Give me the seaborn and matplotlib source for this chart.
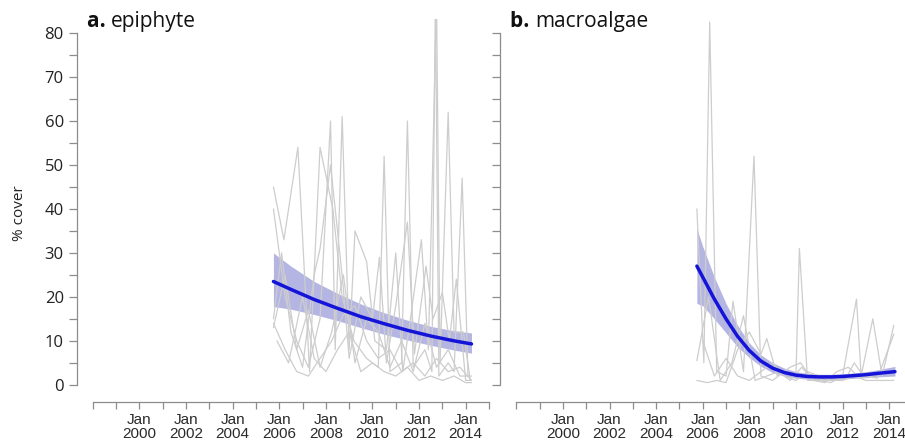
import numpy as np
import pandas as pd
import matplotlib
matplotlib.use("Agg")
import matplotlib.pyplot as plt
from matplotlib import font_manager
import seaborn as sns

# --- data (decimal years, % cover) ---
epi_site1 = [(2005.75, 45), (2006.2, 33), (2006.8, 54), (2007.3, 3), (2007.75, 54), (2008.3, 40),
             (2008.7, 20), (2009.2, 10), (2009.75, 6), (2010.25, 4), (2010.5, 52), (2010.75, 3),
             (2011.25, 5), (2011.5, 60), (2011.75, 4), (2012.25, 8), (2012.55, 3), (2012.7, 88),
             (2012.85, 2), (2013.25, 5), (2013.5, 3), (2013.85, 47), (2014.1, 2)]
epi_site2 = [(2005.75, 40), (2006.25, 20), (2006.75, 10), (2007.25, 4), (2007.75, 15), (2008.2, 60),
             (2008.4, 8), (2008.7, 61), (2009.0, 8), (2009.25, 35), (2009.75, 28), (2010.1, 10),
             (2010.6, 8), (2011.0, 30), (2011.3, 3), (2011.6, 14), (2012.1, 33), (2012.4, 8),
             (2012.75, 88), (2012.9, 5), (2013.25, 62), (2013.5, 12), (2013.9, 12), (2014.2, 1)]
epi_site3 = [(2005.75, 15), (2006.1, 30), (2006.5, 12), (2007.0, 4), (2007.5, 25), (2007.75, 31),
             (2008.2, 50), (2008.5, 35), (2008.75, 22), (2009.0, 6), (2009.5, 20), (2010.0, 15),
             (2010.3, 29), (2010.6, 5), (2011.0, 18), (2011.5, 37), (2011.8, 7), (2012.3, 27),
             (2012.6, 15), (2013.0, 21), (2013.3, 10), (2013.6, 24), (2014.0, 1), (2014.25, 1)]
epi_site4 = [(2005.75, 13), (2006.25, 25), (2006.75, 8), (2007.25, 17), (2007.75, 4), (2008.25, 12),
             (2008.75, 25), (2009.25, 5), (2009.75, 15), (2010.25, 12), (2010.75, 4), (2011.25, 10),
             (2011.75, 3), (2012.25, 14), (2012.75, 4), (2013.25, 8), (2013.75, 2), (2014.25, 2)]
epi_site5 = [(2005.75, 14), (2006.25, 8), (2006.75, 3), (2007.25, 2), (2007.75, 6), (2008.25, 10),
             (2008.75, 16), (2009.25, 18), (2009.75, 10), (2010.25, 6), (2010.75, 8), (2011.25, 3),
             (2011.75, 5), (2012.25, 2), (2012.75, 6), (2013.25, 3), (2013.75, 4), (2014.25, 1)]
epi_site6 = [(2005.9, 10), (2006.4, 5), (2007.0, 20), (2007.5, 6), (2008.0, 3), (2008.5, 8),
             (2009.0, 12), (2009.5, 3), (2010.0, 5), (2010.5, 3), (2011.0, 2), (2011.5, 4),
             (2012.0, 1), (2012.5, 2), (2013.0, 1), (2013.5, 2), (2014.0, 0.5), (2014.25, 0.5)]

mac_site1 = [(2005.75, 40), (2006.05, 5), (2006.3, 82.5), (2006.6, 3), (2007.0, 2), (2007.3, 19),
             (2007.75, 3), (2008.2, 52), (2008.5, 2), (2009.0, 1), (2009.5, 3), (2010.0, 2),
             (2010.15, 31), (2010.5, 1), (2011.0, 1), (2011.5, 0.5), (2012.0, 2), (2012.6, 19.5),
             (2012.8, 2), (2013.3, 15), (2013.7, 2), (2014.2, 13.5)]
mac_site2 = [(2005.75, 1), (2006.2, 0.5), (2006.6, 1), (2007.0, 0.5), (2007.5, 8), (2008.0, 12),
             (2008.5, 7), (2008.75, 10.5), (2009.2, 2), (2009.75, 4), (2010.2, 5), (2010.6, 2),
             (2011.2, 1), (2011.7, 1), (2012.2, 2), (2012.5, 5), (2012.9, 2), (2013.5, 1.5),
             (2014.2, 11.5)]
mac_site3 = [(2005.75, 5.5), (2006.25, 20), (2006.75, 1), (2007.25, 5), (2007.75, 15.7), (2008.25, 1),
             (2008.75, 2), (2009.25, 3), (2009.75, 1), (2010.25, 4), (2010.75, 1), (2011.25, 0.5),
             (2011.75, 3), (2012.25, 4), (2012.75, 1.5), (2013.25, 2), (2013.75, 3), (2014.2, 3)]
mac_site4 = [(2006.0, 10), (2006.5, 2), (2007.0, 6), (2007.5, 2), (2008.0, 1), (2008.5, 3),
             (2009.0, 5), (2009.5, 2), (2010.0, 1), (2010.5, 3), (2011.0, 2), (2011.5, 1),
             (2012.0, 1), (2012.5, 2), (2013.0, 1), (2013.5, 1), (2014.2, 1)]

# fitted trend and its band
epi_fit_x = [2005.75, 2006.5, 2007.5, 2008.5, 2009.5, 2010.5, 2011.5, 2012.5, 2013.5, 2014.25]
epi_fit_y = [23.5, 21.7, 19.4, 17.4, 15.5, 13.9, 12.4, 11.1, 10.0, 9.3]
epi_fit_hi = [30.0, 27.0, 23.5, 20.8, 18.4, 16.4, 14.7, 13.3, 12.3, 11.8]
epi_fit_lo = [17.8, 17.2, 16.0, 14.6, 13.0, 11.5, 10.2, 9.0, 7.9, 7.2]

mac_fit_x = [2005.75, 2006.0, 2006.5, 2007.0, 2007.5, 2008.0, 2008.5, 2009.0, 2009.5, 2010.0,
             2010.5, 2011.0, 2011.5, 2012.0, 2012.5, 2013.0, 2013.5, 2014.25]
mac_fit_y = [27.0, 24.5, 19.5, 15.0, 11.0, 7.8, 5.4, 3.8, 2.8, 2.2, 1.9, 1.8, 1.8, 1.9, 2.1, 2.3, 2.6, 3.0]
mac_fit_hi = [35.5, 31.5, 24.5, 18.5, 13.5, 9.5, 6.8, 5.0, 3.8, 3.0, 2.6, 2.4, 2.4, 2.5, 2.7, 3.0, 3.4, 4.2]
mac_fit_lo = [18.5, 18.0, 15.0, 11.8, 8.6, 6.2, 4.2, 2.8, 2.0, 1.5, 1.3, 1.2, 1.2, 1.3, 1.5, 1.6, 1.8, 2.0]

year_labels = [2000, 2002, 2004, 2006, 2008, 2010, 2012, 2014]
panel_titles = [("a.", "epiphyte"), ("b.", "macroalgae")]


def to_frame(sites):
    rows = []
    for i, site in enumerate(sites):
        for yr, val in site:
            rows.append({"year": yr, "cover": val, "site": i})
    return pd.DataFrame(rows)


names = {f.name for f in font_manager.fontManager.ttflist}
xfont = "Liberation Sans Narrow" if "Liberation Sans Narrow" in names else "Liberation Sans"

sns.set_style("ticks")
plt.rcParams["font.family"] = ["Open Sans", "DejaVu Sans"]

axis_grey = "#8c8c8c"
fig = plt.figure(figsize=(9.05, 4.43), dpi=100)
ax1 = fig.add_axes([0.0851, 0.0926, 0.4727, 0.8646])
ax2 = fig.add_axes([0.5530, 0.0926, 0.4727, 0.8646])

panels = [
    (ax1, [epi_site1, epi_site2, epi_site3, epi_site4, epi_site5, epi_site6],
     epi_fit_x, epi_fit_y, epi_fit_lo, epi_fit_hi),
    (ax2, [mac_site1, mac_site2, mac_site3, mac_site4],
     mac_fit_x, mac_fit_y, mac_fit_lo, mac_fit_hi),
]

for k, (ax, sites, fx, fy, flo, fhi) in enumerate(panels):
    ax.patch.set_alpha(0)
    df = to_frame(sites)
    sns.lineplot(data=df, x="year", y="cover", units="site", estimator=None, sort=False,
                 color="#cdcdcd", lw=0.9, ax=ax, legend=False)
    ax.fill_between(fx, flo, fhi, color="#5050c0", alpha=0.42, lw=0)
    sns.lineplot(x=fx, y=fy, color="#1414d8", lw=2.5, ax=ax)

    ax.set_xlim(1997.32, 2015.68)
    ax.set_ylim(-3.9, 83.2)
    ax.set_xlabel("")
    ax.set_ylabel("")

    for side in ["top", "right"]:
        ax.spines[side].set_visible(False)
    ax.spines["left"].set_bounds(0, 80)
    ax.spines["bottom"].set_bounds(1998, 2015)
    for side in ["left", "bottom"]:
        ax.spines[side].set_color(axis_grey)
        ax.spines[side].set_linewidth(0.9)

    ax.set_yticks(np.arange(0, 81, 10))
    ax.set_yticks(np.arange(5, 80, 10), minor=True)
    ax.set_xticks(year_labels)
    ax.set_xticks([1998, 1999, 2001, 2003, 2005, 2007, 2009, 2011, 2013, 2015], minor=True)
    ax.set_xticklabels([f"Jan\n{y}" for y in year_labels], fontfamily=xfont, fontsize=11,
                       color="#2a2a2a", linespacing=1.0)
    ax.tick_params(axis="y", which="both", length=6, width=0.9, color=axis_grey, pad=3.5,
                   labelsize=12, labelcolor="#222222")
    ax.tick_params(axis="x", which="both", length=5, width=0.9, color=axis_grey, pad=3)
    if k == 1:
        ax.tick_params(axis="y", labelleft=False)

    t = ax.text(0.023, 0.979, panel_titles[k][0] + " ", transform=ax.transAxes, fontsize=15,
                fontweight="bold", va="baseline", ha="left", color="#111111")
    ax.annotate(panel_titles[k][1], xy=(1, 0), xycoords=t, va="bottom", ha="left",
                fontsize=15, color="#111111")

ax1.set_ylabel("% cover", fontsize=11, color="#222222")
ax1.yaxis.set_label_coords(-0.118, 0.493)

fig.savefig("out.png", dpi=100)
